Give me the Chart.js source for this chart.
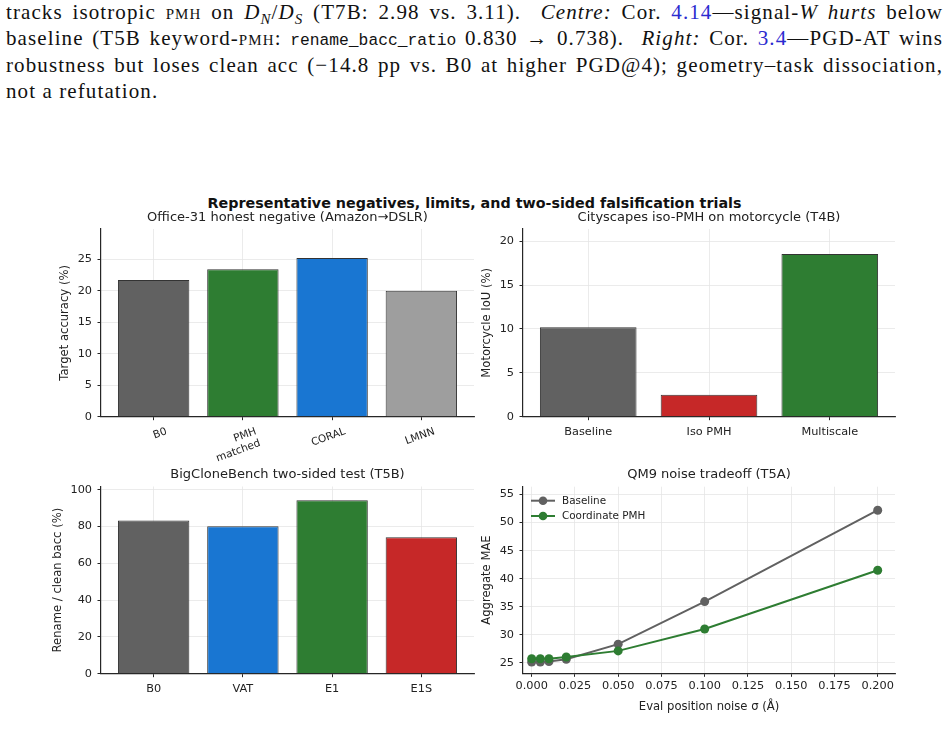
<!DOCTYPE html>
<html>
<head>
<meta charset="utf-8">
<script src="https://cdn.jsdelivr.net/npm/chart.js@4.4.1/dist/chart.umd.min.js"></script>
<style>
  body { margin: 0; width: 949px; height: 747px; background: #fff; position: relative; overflow: hidden; }
  #paper { position: absolute; left: 6px; top: 0px; width: 937px; font-family: 'Liberation Serif', serif; font-size: 21px; letter-spacing: 1.1px; line-height: 25.5px; color: #111; }
  .ln { text-align: justify; text-align-last: justify; }
  .ln.last { text-align-last: left; }
  .sc { font-variant: small-caps; }
  .ref { color: #2b2bd0; }
  .tt { font-family: 'Liberation Mono', monospace; font-size: 16.3px; letter-spacing: 0; }
  sub { font-size: 15px; line-height: 0; }
  #suptitle { position: absolute; left: 0; width: 949px; top: 195px; text-align: center; font-family: 'DejaVu Sans', sans-serif; font-weight: bold; font-size: 14.3px; line-height: 17px; color: #111; }
  canvas { position: absolute; }
</style>
</head>
<body>
<div id="paper">
  <div class="ln">tracks isotropic <span class="sc">pmh</span> on <i>D</i><sub><i>N</i></sub>/<i>D</i><sub><i>S</i></sub> (T7B: 2.98 vs. 3.11). &nbsp;<i>Centre:</i> Cor. <span class="ref">4.14</span>—signal-<i>W hurts</i> below</div>
  <div class="ln">baseline (T5B keyword-<span class="sc">pmh</span>: <span class="tt">rename_bacc_ratio</span> 0.830 → 0.738). &nbsp;<i>Right:</i> Cor. <span class="ref">3.4</span>—PGD-AT wins</div>
  <div class="ln">robustness but loses clean acc (−14.8 pp vs. B0 at higher PGD@4); geometry–task dissociation,</div>
  <div class="ln last">not a refutation.</div>
</div>
<div id="suptitle">Representative negatives, limits, and two-sided falsification trials</div>
<canvas id="office" width="430" height="255" style="left:50px;top:208px"></canvas>
<canvas id="city" width="430" height="255" style="left:473px;top:208px"></canvas>
<canvas id="clone" width="430" height="263" style="left:50px;top:462px"></canvas>
<canvas id="qm9" width="430" height="263" style="left:473px;top:462px"></canvas>
<script>
// Office-31 (Amazon -> DSLR)
const officeLabels = ['B0', ['PMH', 'matched'], 'CORAL', 'LMNN'];
const officeAcc = [21.7, 23.4, 25.2, 20.0];
const officeTicks = [0, 5, 10, 15, 20, 25];

// Cityscapes motorcycle IoU
const cityLabels = ['Baseline', 'Iso PMH', 'Multiscale'];
const cityIoU = [10.2, 2.5, 18.55];
const cityTicks = [0, 5, 10, 15, 20];

// BigCloneBench rename / clean
const cloneLabels = ['B0', 'VAT', 'E1', 'E1S'];
const cloneBacc = [83.2, 80.1, 94.2, 74.1];
const cloneTicks = [0, 20, 40, 60, 80, 100];

// QM9 noise tradeoff
const noiseSigma = [0, 0.005, 0.01, 0.02, 0.05, 0.1, 0.2];
const baselineMAE = [25.1, 25.1, 25.2, 25.6, 28.3, 35.9, 52.2];
const pmhMAE = [25.7, 25.7, 25.7, 26.0, 27.1, 31.0, 41.5];
const noiseTicks = [0, 0.025, 0.05, 0.075, 0.1, 0.125, 0.15, 0.175, 0.2];
const maeTicks = [25, 30, 35, 40, 45, 50, 55];

const GRAY = '#616161', GREEN = '#2e7d32', BLUE = '#1976d2', RED = '#c62828', LIGHT = '#9e9e9e';
const GRID = '#e6e6e6';
const SPINE = '#262626';

Chart.defaults.font.family = "'DejaVu Sans', sans-serif";
Chart.defaults.color = '#222';
Chart.defaults.animation = false;
Chart.defaults.plugins.legend.display = false;
Chart.defaults.plugins.tooltip.enabled = false;

const gridOpts = { color: GRID, lineWidth: 0.8, tickLength: 3.5, tickColor: SPINE, tickWidth: 1, offset: false };
const borderOpts = { color: SPINE, width: 1.2 };

// title box sized so the text centre and the top of the axes land where wanted
function titleOpts(text, centerY, chartTop) {
    const lh = 13 * 1.2;
    const top = centerY - lh / 2;
    return { display: true, fullSize: false, text, color: '#222', font: { size: 13, weight: 'normal' },
             padding: { top, bottom: chartTop - lh - top } };
}

function yScale(ticks, min, max, text, titleX, width) {
    return {
        type: 'linear', min, max,
        afterBuildTicks: s => { s.ticks = ticks.map(v => ({ value: v })); },
        afterFit: s => { s.width = width; },
        grid: gridOpts, border: borderOpts,
        ticks: { font: { size: 11.3 }, padding: 5.5 },
        title: { display: true, text, font: { size: 11.6 }, padding: { top: titleX - 11.6 * 1.2 / 2, bottom: 0 } }
    };
}

function barX(labels, height, rot, fontSize, labelOffset) {
    const n = labels.length, m = 0.05 * (n - 0.2);
    return {
        type: 'linear', min: -0.4 - m, max: n - 0.6 + m, offset: false,
        afterBuildTicks: s => { s.ticks = labels.map((_, i) => ({ value: i })); },
        afterFit: s => { s.height = height; },
        grid: gridOpts, border: borderOpts,
        ticks: { callback: v => labels[v], autoSkip: false, minRotation: rot, maxRotation: rot,
                 labelOffset, padding: 5, font: { size: fontSize } }
    };
}

function barChart(id, labels, values, colors, ys, layout) {
    return new Chart(document.getElementById(id), {
        type: 'bar',
        data: {
            datasets: [{
                data: values.map((v, i) => ({ x: i, y: v })),
                backgroundColor: colors,
                borderColor: '#333',
                borderWidth: 1,
                barPercentage: 0.8,
                categoryPercentage: 1.0
            }]
        },
        options: {
            responsive: false,
            layout: { padding: { left: 0, right: layout.right, top: 0, bottom: 0 } },
            plugins: { title: titleOpts(layout.title, layout.titleY, layout.top) },
            scales: {
                x: barX(labels, layout.xh, layout.rot || 0, layout.xfont || 11.3, layout.labelOffset || 0),
                y: ys
            }
        }
    });
}

barChart('office', officeLabels, officeAcc, [GRAY, GREEN, BLUE, LIGHT],
    yScale(officeTicks, 0, 29.8, 'Target accuracy (%)', 15.3, 51),
    { title: 'Office-31 honest negative (Amazon→DSLR)', titleY: 10, top: 21, right: 6, xh: 46.3,
      rot: 20, xfont: 10.5, labelOffset: 13 });

barChart('city', cityLabels, cityIoU, [GRAY, RED, GREEN],
    yScale(cityTicks, 0, 21.4, 'Motorcycle IoU (%)', 14.3, 50),
    { title: 'Cityscapes iso-PMH on motorcycle (T4B)', titleY: 10, top: 21, right: 8, xh: 46.3 });

barChart('clone', cloneLabels, cloneBacc, [GRAY, BLUE, GREEN, RED],
    yScale(cloneTicks, 0, 101.7, 'Rename / clean bacc (%)', 7.7, 51),
    { title: 'BigCloneBench two-sided test (T5B)', titleY: 13, top: 24.5, right: 6, xh: 51.3 });

// legend with line + marker handles, drawn inside the axes
const lineLegend = {
    id: 'lineLegend',
    afterDatasetsDraw(chart) {
        const { ctx, chartArea: { left, top } } = chart;
        ctx.save();
        ctx.font = "10.4px 'DejaVu Sans'";
        ctx.textBaseline = 'middle';
        chart.data.datasets.forEach((ds, i) => {
            const y = top + 14 + i * 15.3;
            ctx.strokeStyle = ds.borderColor;
            ctx.lineWidth = 2;
            ctx.beginPath(); ctx.moveTo(left + 8, y); ctx.lineTo(left + 32, y); ctx.stroke();
            ctx.fillStyle = ds.borderColor;
            ctx.beginPath(); ctx.arc(left + 20, y, 4.3, 0, Math.PI * 2); ctx.fill();
            ctx.fillStyle = '#222';
            ctx.fillText(ds.label, left + 39, y + 0.5);
        });
        ctx.restore();
    }
};

new Chart(document.getElementById('qm9'), {
    type: 'line',
    data: {
        datasets: [
            { label: 'Baseline', data: noiseSigma.map((x, i) => ({ x, y: baselineMAE[i] })),
              borderColor: GRAY, backgroundColor: GRAY, order: 1 },
            { label: 'Coordinate PMH', data: noiseSigma.map((x, i) => ({ x, y: pmhMAE[i] })),
              borderColor: GREEN, backgroundColor: GREEN, order: 0 }
        ]
    },
    options: {
        responsive: false,
        layout: { padding: { left: 0, right: 8, top: 0, bottom: 0 } },
        elements: {
            line: { borderWidth: 2, tension: 0 },
            point: { radius: 4.5, borderWidth: 0 }
        },
        plugins: { title: titleOpts('QM9 noise tradeoff (T5A)', 13, 24.7) },
        scales: {
            x: {
                type: 'linear', min: -0.005, max: 0.21,
                afterBuildTicks: s => { s.ticks = noiseTicks.map(v => ({ value: v })); },
                afterFit: s => { s.height = 51.7; },
                grid: gridOpts, border: borderOpts,
                ticks: { callback: v => v.toFixed(3), maxRotation: 0, autoSkip: false, padding: 2, font: { size: 11.3 } },
                title: { display: true, text: 'Eval position noise σ (Å)', font: { size: 11.6 }, padding: { top: 0, bottom: 11 } }
            },
            y: yScale(maeTicks, 23.1, 56.4, 'Aggregate MAE', 14.3, 50)
        }
    },
    plugins: [lineLegend]
});
</script>
</body>
</html>
